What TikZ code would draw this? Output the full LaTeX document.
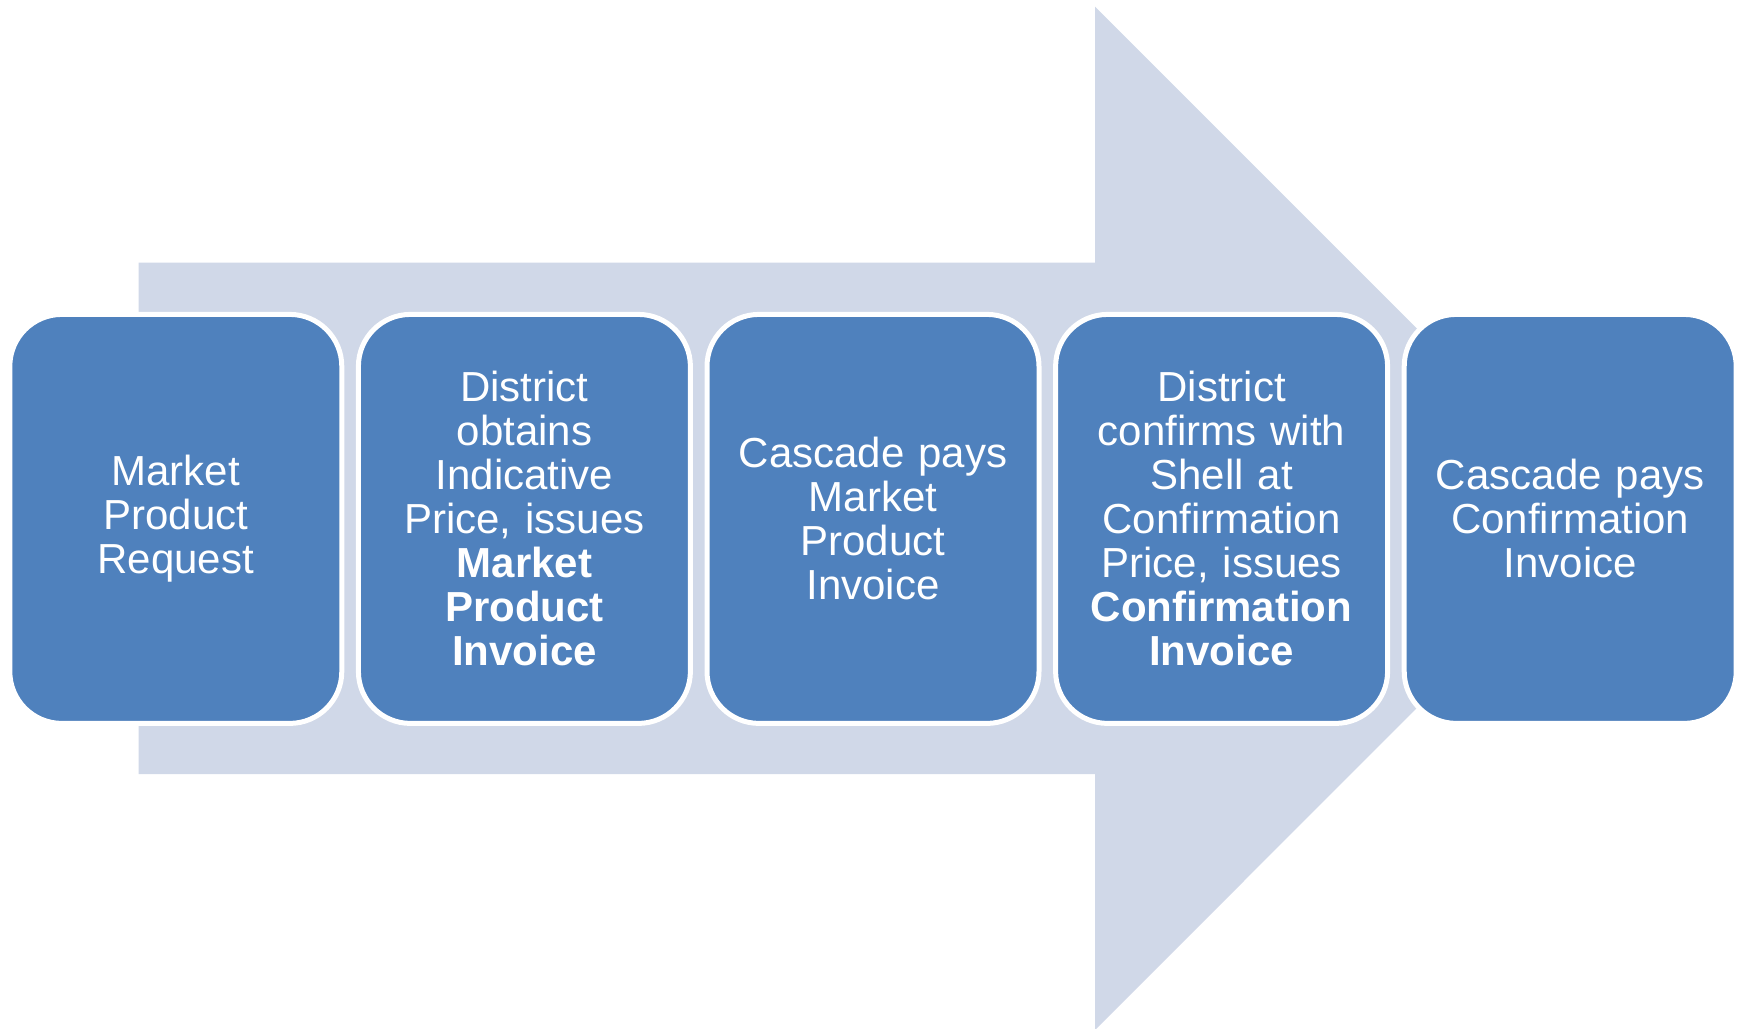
\documentclass[tikz,border=0pt]{standalone}
\usepackage{fontspec}
\setmainfont{Liberation Sans}
\definecolor{stepblue}{HTML}{4F81BD}
\definecolor{flowback}{HTML}{D0D8E8}
\begin{document}
\begin{tikzpicture}[x=1pt,y=-1pt,
  stepbox/.style={draw=white, line width=5pt, fill=stepblue, rounded corners=52pt,
    minimum width=332pt, minimum height=409pt, inner sep=0pt,
    text width=320pt, align=center, text=white,
    font=\fontsize{42}{44}\selectfont}]
  \useasboundingbox (0,0) rectangle (1737,1028);
  \begin{scope}
    \clip (0,0) rectangle (1737,1028);
    % large background arrow
    \fill[flowback] (138.7,262.7) -- (1095,262.7) -- (1095,6.7) -- (1606.6,518.3)
      -- (1095,1030) -- (1095,774) -- (138.7,774) -- cycle;
  \end{scope}
  % process steps
  \node[stepbox] (s1) at (175.8,518.9) {Market\\Product\\Request};
  \node[stepbox] (s2) at (524.4,518.9) {District\\obtains\\Indicative\\Price, issues\\\textbf{Market}\\\textbf{Product}\\\textbf{Invoice}};
  \node[stepbox] (s3) at (873.0,518.9) {Cascade pays\\Market\\Product\\Invoice};
  \node[stepbox] (s4) at (1221.6,518.9) {District\\confirms with\\Shell at\\Confirmation\\Price, issues\\\textbf{Confirmation}\\\textbf{Invoice}};
  \node[stepbox] (s5) at (1570.2,518.9) {Cascade pays\\Confirmation\\Invoice};
\end{tikzpicture}
\end{document}
